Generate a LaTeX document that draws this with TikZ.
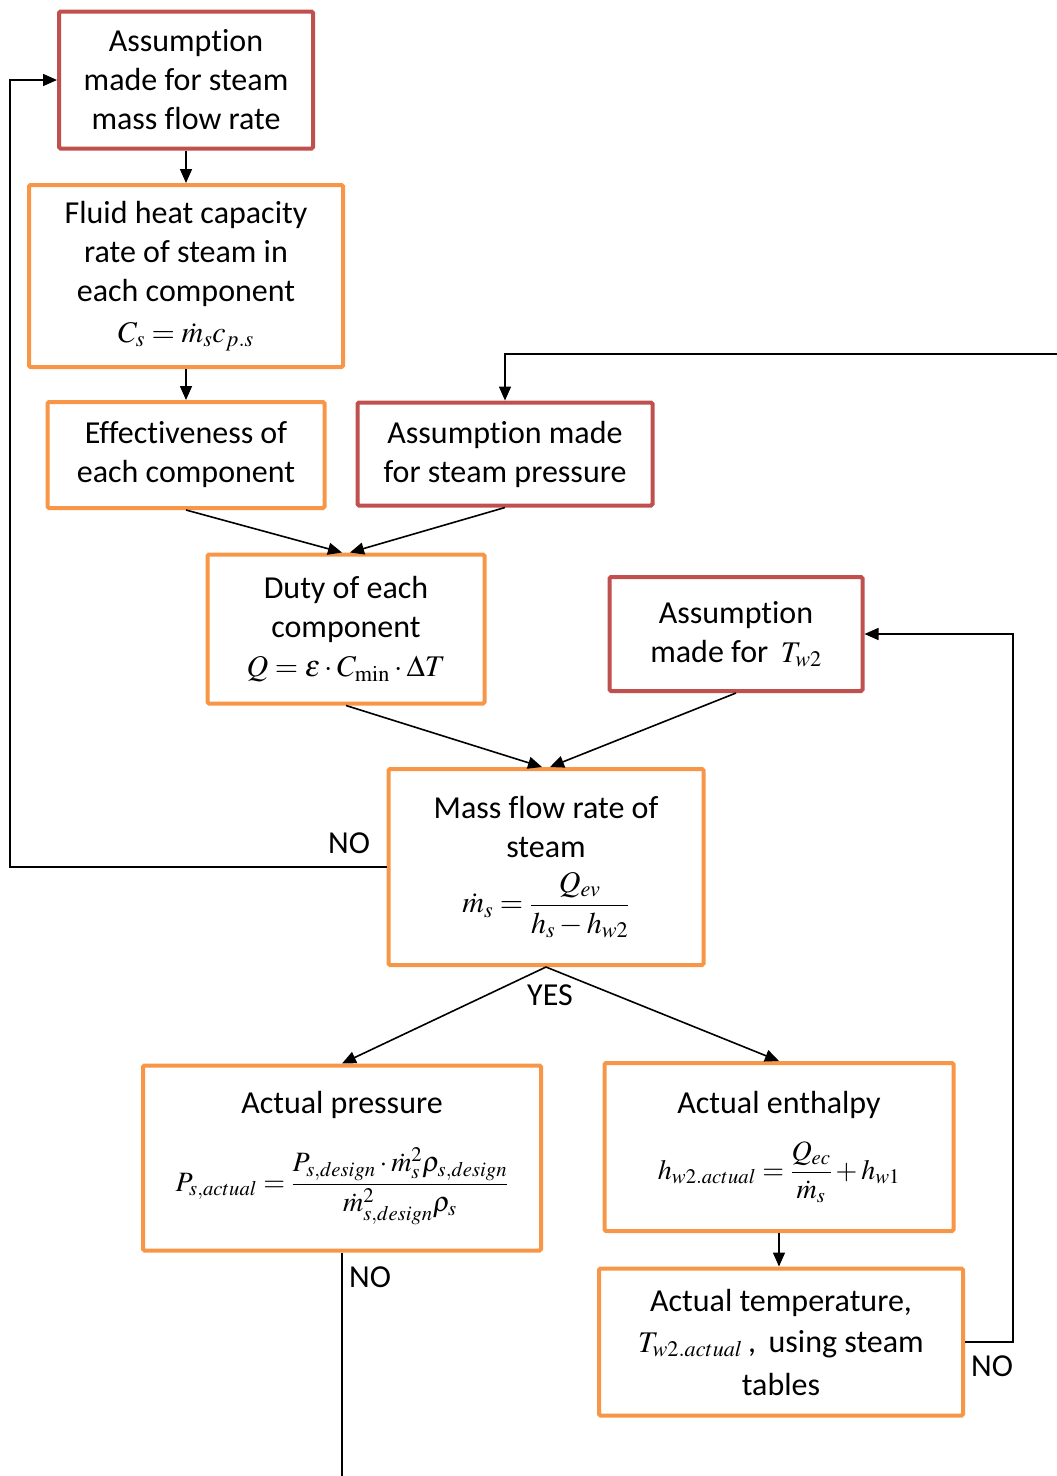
\documentclass[tikz,border=0pt]{standalone}
\usepackage{mathptmx}
\usepackage[no-math]{fontspec}
\setmainfont{Carlito}[Ligatures={NoCommon}]
\usetikzlibrary{arrows.meta}

\definecolor{boxred}{HTML}{C0504D}
\definecolor{boxorange}{HTML}{F79646}
\newcommand\boxfont{\fontsize{32}{39}\selectfont}

\tikzset{
  flowbox/.style={line width=4pt, fill=white, rounded corners=1.5pt,
    align=center, inner sep=0pt, font=\boxfont},
  assumebox/.style={flowbox, draw=boxred},
  calcbox/.style={flowbox, draw=boxorange},
  conn/.style={line width=1.6pt, draw=black},
  arr/.style={conn, -{Triangle[length=14pt,width=12pt]}},
  lbl/.style={font=\boxfont, inner sep=0pt}
}

\begin{document}
\begin{tikzpicture}[x=1pt,y=-1pt]
\useasboundingbox (0,0) rectangle (1057,1476);

% assumption boxes
\node[assumebox, minimum width=254, minimum height=137] (amf) at (186,80)
  {Assumption\\made for steam\\mass flow rate};
\node[assumebox, minimum width=295, minimum height=103] (asp) at (505,454)
  {Assumption made\\for steam pressure};
\node[assumebox, minimum width=253, minimum height=114] (atw) at (736,634)
  {Assumption\\made for \,{\fontsize{30}{39}\selectfont$T_{w2}$}};

% calculation boxes
\node[calcbox, minimum width=314, minimum height=182] (fhc) at (186,276)
  {Fluid heat capacity\\rate of steam in\\each component\\[2pt]{\fontsize{30}{39}\selectfont$C_s=\dot{m}_s c_{p.s}$}};
\node[calcbox, minimum width=277, minimum height=106] (eff) at (186,455)
  {Effectiveness of\\each component};
\node[calcbox, minimum width=277, minimum height=149] (duty) at (346,629)
  {Duty of each\\component\\{\fontsize{30}{39}\selectfont$Q=\varepsilon\cdot C_{\min}\cdot\Delta T$}};
\node[calcbox, minimum width=315, minimum height=196] (mfr) at (546,867)
  {Mass flow rate of\\steam\\[14pt]{\fontsize{30}{39}\selectfont$\displaystyle \dot{m}_s=\frac{Q_{ev}}{h_s-h_{w2}}$}};
\node[calcbox, minimum width=398, minimum height=185] (ap) at (342,1158)
  {Actual pressure\\[28pt]{\fontsize{28}{34}\selectfont$\displaystyle P_{s,actual}=\frac{P_{s,design}\cdot{\dot{m}_s}^{2}\rho_{s,design}}{{\dot{m}_{s,design}}^{2}\rho_s}$}};
\node[calcbox, minimum width=349, minimum height=168] (ae) at (779,1147)
  {Actual enthalpy\\[22pt]{\fontsize{28}{34}\selectfont$\displaystyle h_{w2.actual}=\frac{Q_{ec}}{\dot{m}_s}+h_{w1}$}};
\node[calcbox, minimum width=364, minimum height=147] (at) at (781,1342)
  {Actual temperature,\\[2pt]{\fontsize{30}{39}\selectfont$T_{w2.actual}$}\,,\, using steam\\[4pt]tables};

% free ends and bends of the loop lines
\coordinate (mfrloop) at (10,867);
\coordinate (atloop) at (1013,1342);
\coordinate (prin) at (1057,354);
\coordinate (apout) at (342,1476);

% main flow
\draw[arr] (amf.south) -- (fhc.north);
\draw[arr] (fhc.south) -- (eff.north);
\draw[arr] (eff.south) -- ([xshift=-4pt]duty.north);
\draw[arr] (asp.south) -- ([xshift=4pt]duty.north);
\draw[arr] (duty.south) -- ([xshift=-4pt]mfr.north);
\draw[arr] (atw.south) -- ([xshift=4pt]mfr.north);
\draw[arr] (mfr.south) -- (ap.north);
\draw[arr] (mfr.south) -- (ae.north);
\draw[arr] (ae.south) -- (ae.south |- at.north);

% feedback loops
\draw[arr] (mfr.west) -- (mfrloop) |- (amf.west);
\draw[arr] (at.east) -- (atloop) |- (atw.east);
\draw[arr] (prin) -| (asp.north);
\draw[conn] (ap.south) -- (apout);

% decision labels
\node[lbl] (yes) at (550,995) {YES};
\node[lbl] (no1) at (349,843) {NO};
\node[lbl] (no2) at (370,1277) {NO};
\node[lbl] (no3) at (992,1366) {NO};
\end{tikzpicture}
\end{document}
